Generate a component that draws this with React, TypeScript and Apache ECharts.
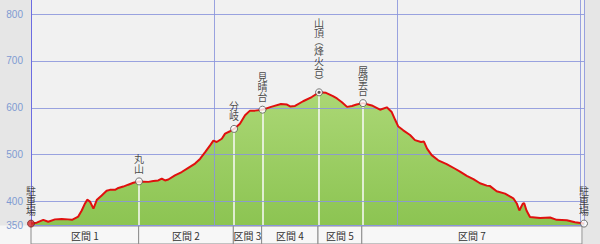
import React, { useEffect, useRef } from 'react';
import * as echarts from 'echarts';

// Elevation profile (distance in km, elevation in m)
const profileKm = [
  0, 0.031, 0.067, 0.094, 0.131, 0.168, 0.202, 0.224, 0.258, 0.277, 0.295, 0.307, 0.322, 0.341, 0.36,
  0.386, 0.413, 0.431, 0.459, 0.477, 0.504, 0.531, 0.559, 0.59, 0.641, 0.668, 0.695, 0.714, 0.732, 0.75,
  0.786, 0.823, 0.859, 0.896, 0.923, 0.95, 0.978, 0.996, 1.014, 1.042, 1.06, 1.087, 1.109, 1.141, 1.169,
  1.196, 1.223, 1.264, 1.311, 1.365, 1.398, 1.415, 1.442, 1.486, 1.533, 1.573, 1.611, 1.649, 1.671, 1.698,
  1.726, 1.753, 1.778, 1.813, 1.861, 1.906, 1.943, 1.97, 1.988, 2.006, 2.033, 2.07, 2.097, 2.13, 2.146,
  2.163, 2.188, 2.224, 2.27, 2.316, 2.343, 2.38, 2.416, 2.452, 2.489, 2.507, 2.543, 2.589, 2.634, 2.653,
  2.667, 2.685, 2.693, 2.706, 2.725, 2.78, 2.835, 2.871, 2.926, 2.971, 3.02,
];
const profileElev = [
  353, 355, 361, 357, 362, 363, 362, 361, 368, 381, 396, 404, 400, 385, 404,
  413, 423, 425, 425, 429, 432, 436, 440, 443, 442, 444, 445, 449, 445, 447,
  456, 463, 472, 481, 491, 505, 520, 530, 527, 534, 545, 550, 555, 566, 584,
  594, 594, 596, 602, 608, 607, 603, 604, 614, 623, 633, 632, 625, 620, 612,
  602, 604, 607, 610, 605, 596, 601, 591, 575, 560, 552, 542, 531, 527, 528,
  513, 499, 488, 480, 470, 464, 455, 448, 439, 434, 433, 422, 417, 407, 396,
  381, 395, 397, 381, 367, 365, 366, 361, 360, 356, 353,
];

// Waypoints
const waypointNames = ['駐車場', '丸山', '分岐', '見晴台', '山頂(烽火台)', '展望台', '駐車場'];
const waypointKm = [0, 0.59, 1.109, 1.264, 1.573, 1.813, 3.02];
const waypointElev = [353, 443, 555, 596, 633, 610, 353];

// Sections between consecutive waypoints
const sectionLabels = ['区間 1', '区間 2', '区間 3', '区間 4', '区間 5', '区間 7'];

// Axis ticks
const yTickLabels = [350, 400, 500, 600, 700, 800];
const xGridKm = [1, 2, 3, 3.02];

const X_MAX = 3.02;
const Y_MIN = 350;
const Y_MAX = 830;

export default function App() {
  const ref = useRef<HTMLDivElement>(null);

  useEffect(() => {
    if (!ref.current) return;
    const chart = echarts.init(ref.current, null, { renderer: 'svg' });

    const profile = profileKm.map((k, i) => [k, profileElev[i]]);
    const cjk = '"Noto Sans CJK JP", "Noto Sans", sans-serif';

    const vertical = (name: string) =>
      name
        .split('')
        .map((ch) => (ch === '(' ? '{p|︵}' : ch === ')' ? '{p|︶}' : '{c|' + ch + '}'))
        .join('\n');

    const whiteLines = waypointKm
      .map((k, i) => [
        { coord: [k, Y_MIN] },
        { coord: [k, waypointElev[i]] },
      ])
      .slice(1, -1);

    const gridLines: any[] = [
      ...yTickLabels.map((v) => ({
        yAxis: v,
        lineStyle: { color: '#8a94dc', width: 1, type: 'solid', opacity: v === 350 ? 1 : 0.85 },
      })),
      { xAxis: 0, lineStyle: { color: '#6c6ce2', width: 1, type: 'solid' } },
      ...xGridKm.map((k) => ({
        xAxis: k,
        lineStyle: { color: '#8a94dc', width: 1, type: 'solid', opacity: 0.85 },
      })),
    ];

    const sections = sectionLabels.map((label, i) => [
      { name: label, xAxis: waypointKm[i], yAxis: 0 },
      { xAxis: waypointKm[i + 1], yAxis: 1 },
    ]);

    const summitIndex = waypointNames.findIndex((n) => n.startsWith('山頂'));

    chart.setOption({
      animation: false,
      backgroundColor: 'transparent',
      graphic: [
        {
          type: 'rect',
          z: 0,
          shape: { x: 0, y: 225.5, width: 583, height: 19 },
          style: { fill: '#f6f6f6' },
          silent: true,
        },
      ],
      grid: [
        { left: 31, top: 0, width: 553, height: 225, show: true, backgroundColor: '#f1f1f1', borderWidth: 0 },
        { left: 31, top: 226, width: 551, height: 18, show: false },
      ],
      xAxis: [
        { gridIndex: 0, type: 'value', min: 0, max: X_MAX, interval: 1, show: false },
        { gridIndex: 1, type: 'value', min: 0, max: X_MAX, show: false },
      ],
      yAxis: [
        {
          gridIndex: 0,
          type: 'value',
          min: Y_MIN,
          max: Y_MAX,
          interval: 50,
          axisLine: { show: false },
          axisTick: { show: false },
          splitLine: { show: false },
          axisLabel: {
            showMaxLabel: false,
            margin: 8,
            color: '#7f9bd2',
            fontSize: 10,
            fontFamily: '"Liberation Sans", Arial, sans-serif',
            formatter: (v: number) => (yTickLabels.includes(v) ? String(v) : ''),
          },
        },
        { gridIndex: 1, type: 'value', min: 0, max: 1, show: false },
      ],
      series: [
        {
          type: 'line',
          xAxisIndex: 0,
          yAxisIndex: 0,
          data: profile,
          symbol: 'none',
          silent: true,
          z: 1,
          lineStyle: { width: 0 },
          areaStyle: {
            opacity: 1,
            color: new echarts.graphic.LinearGradient(0, 0, 0, 1, [
              { offset: 0, color: '#abd775' },
              { offset: 1, color: '#8cc452' },
            ]),
          },
          markLine: {
            z: 2,
            silent: true,
            symbol: ['none', 'none'],
            label: { show: false },
            lineStyle: { color: '#fafafa', width: 1.5, type: 'solid' },
            emphasis: { disabled: true },
            data: whiteLines,
          },
        },
        {
          type: 'line',
          xAxisIndex: 0,
          yAxisIndex: 0,
          data: profile,
          symbol: 'none',
          silent: true,
          z: 4,
          lineStyle: { color: '#e0100e', width: 2 },
          markLine: {
            z: 3,
            silent: true,
            symbol: ['none', 'none'],
            label: { show: false },
            emphasis: { disabled: true },
            data: gridLines,
          },
        },
        {
          type: 'scatter',
          xAxisIndex: 0,
          yAxisIndex: 0,
          z: 5,
          silent: true,
          symbolSize: 7,
          itemStyle: { color: '#ffffff', borderColor: '#555555', borderWidth: 1 },
          label: {
            show: true,
            position: 'top',
            distance: 4,
            color: '#1a1a1a',
            fontSize: 10,
            lineHeight: 10,
            fontFamily: cjk,
            formatter: (p: any) => vertical(p.name),
            rich: {
              c: { fontSize: 10, lineHeight: 10, color: '#1a1a1a', fontFamily: cjk },
              p: { fontSize: 9, lineHeight: 8.5, color: '#1a1a1a', fontFamily: cjk },
            },
          },
          data: waypointNames.map((n, i) => ({
            name: n,
            value: [waypointKm[i], waypointElev[i]],
            itemStyle: i === 0 ? { color: '#d42a2a', borderColor: '#7a2222' } : undefined,
          })),
        },
        {
          type: 'scatter',
          xAxisIndex: 0,
          yAxisIndex: 0,
          z: 6,
          silent: true,
          symbolSize: 3,
          itemStyle: { color: '#333333' },
          data: summitIndex >= 0 ? [[waypointKm[summitIndex], waypointElev[summitIndex]]] : [],
        },
        {
          type: 'line',
          xAxisIndex: 1,
          yAxisIndex: 1,
          data: [[0, -1]],
          symbol: 'none',
          silent: true,
          lineStyle: { width: 0 },
          markArea: {
            silent: true,
            itemStyle: { color: '#f7f7f7', borderColor: '#8c8c8c', borderWidth: 1 },
            label: {
              show: true,
              position: 'inside',
              color: '#333333',
              fontSize: 10,
              fontFamily: cjk,
            },
            emphasis: { disabled: true },
            data: sections,
          },
        },
      ],
    });

    return () => chart.dispose();
  }, []);

  return (
    <div
      ref={ref}
      style={{ position: 'fixed', left: 0, top: 0, width: 600, height: 244, background: '#e6e6e6' }}
    />
  );
}
